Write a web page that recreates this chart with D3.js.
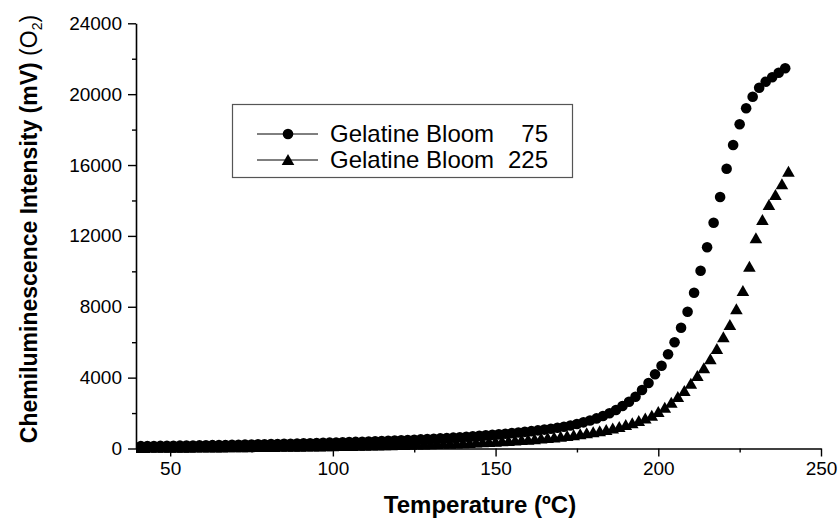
<!DOCTYPE html>
<html>
<head>
<meta charset="utf-8">
<script src="https://cdn.jsdelivr.net/npm/d3@7"></script>
<style>
    body { margin: 0; background: #fff; }
    svg text { font-family: "Liberation Sans", Arial, sans-serif; fill: #000; }
</style>
</head>
<body>
<div id="chart"></div>
<script>

// Gelatine Bloom 75 (circles)
const temps75 = [41, 43, 45, 47, 49, 51, 53, 55, 57, 59,
    61, 63, 65, 67, 69, 71, 73, 75, 77, 79,
    81, 83, 85, 87, 89, 91, 93, 95, 97, 99,
    101, 103, 105, 107, 109, 111, 113, 115, 117, 119,
    121, 123, 125, 127, 129, 131, 133, 135, 137, 139,
    141, 143, 145, 147, 149, 151, 153, 155, 157, 159,
    161, 163, 165, 167, 169, 171, 173, 175, 177, 179,
    181, 183, 185, 187, 189, 191, 193, 195, 197, 199,
    201, 203, 205, 207, 209, 211, 213, 215, 217, 219,
    221, 223, 225, 227, 229, 231, 233, 235, 237, 239];
const bloom75 = [134, 138, 142, 147, 151, 156, 161, 166, 171, 176,
    182, 188, 194, 200, 206, 212, 219, 226, 233, 240,
    248, 256, 264, 272, 281, 290, 299, 309, 319, 329,
    340, 350, 361, 372, 383, 395, 408, 422, 436, 450,
    465, 481, 497, 514, 532, 550, 570, 591, 613, 636,
    660, 686, 713, 741, 770, 800, 833, 868, 904, 941,
    980, 1023, 1068, 1115, 1168, 1230, 1300, 1382, 1475, 1580,
    1700, 1834, 1987, 2173, 2399, 2642, 2924, 3302, 3700, 4188,
    4673, 5317, 5994, 6818, 7722, 8794, 10036, 11356, 12745, 14195,
    15793, 17131, 18299, 19202, 19856, 20364, 20703, 20951, 21211, 21460];

// Gelatine Bloom 225 (triangles)
const temps225 = [40, 42, 44, 46, 48, 50, 52, 54, 56, 58,
    60, 62, 64, 66, 68, 70, 72, 74, 76, 78,
    80, 82, 84, 86, 88, 90, 92, 94, 96, 98,
    100, 102, 104, 106, 108, 110, 112, 114, 116, 118,
    120, 122, 124, 126, 128, 130, 132, 134, 136, 138,
    140, 142, 144, 146, 148, 150, 152, 154, 156, 158,
    160, 162, 164, 166, 168, 170, 172, 174, 176, 178,
    180, 182, 184, 186, 188, 190, 192, 194, 196, 198,
    200, 202, 204, 206, 208, 210, 212, 214, 216, 218,
    220, 222, 224, 226, 228, 230, 232, 234, 236, 238, 240];
const bloom225 = [33, 35, 36, 38, 40, 42, 44, 46, 49, 51,
    54, 57, 59, 62, 65, 68, 71, 74, 78, 81,
    85, 89, 92, 96, 101, 105, 110, 114, 119, 125,
    130, 136, 141, 147, 153, 160, 166, 173, 180, 187,
    195, 203, 212, 221, 230, 240, 251, 262, 274, 287,
    300, 315, 332, 349, 367, 385, 406, 427, 450, 474,
    500, 528, 559, 590, 624, 660, 705, 750, 800, 855,
    915, 980, 1050, 1130, 1220, 1320, 1430, 1550, 1690, 1850,
    2060, 2300, 2580, 2900, 3250, 3650, 4092, 4527, 5035, 5616,
    6276, 6971, 7857, 8890, 10261, 11864, 12897, 13744, 14308, 14912, 15623];

const xTicks = [50, 100, 150, 200, 250];
const xMinor = [75, 125, 175, 225];
const yTicks = [0, 4000, 8000, 12000, 16000, 20000, 24000];
const yMinor = [2000, 6000, 10000, 14000, 18000, 22000];

const seriesNames = ["Gelatine Bloom", "Gelatine Bloom"];
const seriesNums = ["75", "225"];

const W = 838, H = 521;

const svg = d3.select("#chart").append("svg")
    .attr("width", W)
    .attr("height", H);

const x = d3.scaleLinear().domain([39.5, 250]).range([136, 821]);
const y = d3.scaleLinear().domain([0, 24000]).range([448.5, 23.3]);

const triPath = "M0,-6L6.3,5L-6.3,5Z";

// clip so markers stay in the plot box
svg.append("clipPath").attr("id", "plotclip")
    .append("rect")
    .attr("x", x.range()[0]).attr("y", 0)
    .attr("width", x.range()[1] - x.range()[0] + 10)
    .attr("height", y.range()[0] + 12);

const plot = svg.append("g").attr("clip-path", "url(#plotclip)");

plot.selectAll(".tri")
    .data(temps225.map((t, i) => [t, bloom225[i]]))
    .enter().append("path")
    .attr("class", "tri")
    .attr("d", triPath)
    .attr("transform", d => "translate(" + x(d[0]) + "," + y(d[1]) + ")")
    .attr("fill", "#000");

plot.selectAll(".dot")
    .data(temps75.map((t, i) => [t, bloom75[i]]))
    .enter().append("circle")
    .attr("class", "dot")
    .attr("cx", d => x(d[0]))
    .attr("cy", d => y(d[1]))
    .attr("r", 5.3)
    .attr("fill", "#000");

// axes
svg.append("g")
    .attr("transform", "translate(0," + y.range()[0] + ")")
    .call(d3.axisBottom(x).tickValues(xTicks).tickSize(8).tickPadding(5).tickSizeOuter(0));
svg.append("g")
    .attr("transform", "translate(0," + y.range()[0] + ")")
    .call(d3.axisBottom(x).tickValues(xMinor).tickSize(4).tickFormat("").tickSizeOuter(0))
    .select(".domain").remove();

svg.append("g")
    .attr("transform", "translate(" + x.range()[0] + ",0)")
    .call(d3.axisLeft(y).tickValues(yTicks).tickFormat(d3.format("d")).tickSize(8).tickPadding(6).tickSizeOuter(0));
svg.append("g")
    .attr("transform", "translate(" + x.range()[0] + ",0)")
    .call(d3.axisLeft(y).tickValues(yMinor).tickSize(4).tickFormat("").tickSizeOuter(0))
    .select(".domain").remove();

svg.selectAll(".domain").attr("stroke", "#000").attr("stroke-width", 1.6);
svg.selectAll(".tick line").attr("stroke", "#000").attr("stroke-width", 1.4);
svg.selectAll(".tick text")
    .attr("font-family", "'Liberation Sans', Arial, sans-serif")
    .attr("font-size", "19px")
    .attr("fill", "#000");

// axis titles
svg.append("text")
    .attr("x", 480)
    .attr("y", 513)
    .attr("text-anchor", "middle")
    .attr("font-size", "24px")
    .attr("font-weight", "bold")
    .text("Temperature (ºC)");

const yTitle = svg.append("text")
    .attr("transform", "translate(37,229) rotate(-90)")
    .attr("text-anchor", "middle")
    .attr("font-size", "23px")
    .attr("font-weight", "bold");
yTitle.append("tspan").text("Chemiluminescence Intensity (mV) ");
yTitle.append("tspan").attr("font-weight", "normal").text("(O");
yTitle.append("tspan").attr("font-weight", "normal").attr("font-size", "14px").attr("dy", 5).text("2");
yTitle.append("tspan").attr("font-weight", "normal").attr("dy", -5).text(")");

// legend
const legend = svg.append("g");
legend.append("rect")
    .attr("x", 232.5).attr("y", 104.5)
    .attr("width", 340).attr("height", 73)
    .attr("fill", "#fff")
    .attr("stroke", "#555")
    .attr("stroke-width", 1.2);

const rows = [134, 160];
rows.forEach((ry, i) => {
    legend.append("line")
        .attr("x1", 257).attr("x2", 318)
        .attr("y1", ry).attr("y2", ry)
        .attr("stroke", "#000").attr("stroke-width", 1);
    if (i === 0) {
        legend.append("circle").attr("cx", 288).attr("cy", ry).attr("r", 5.3).attr("fill", "#000");
    } else {
        legend.append("path").attr("d", triPath).attr("transform", "translate(288," + ry + ")").attr("fill", "#000");
    }
    legend.append("text")
        .attr("x", 330).attr("y", ry + 8)
        .attr("font-size", "24px")
        .text(seriesNames[i]);
    legend.append("text")
        .attr("x", 548).attr("y", ry + 8)
        .attr("font-size", "24px")
        .attr("text-anchor", "end")
        .text(seriesNums[i]);
});

</script>
</body>
</html>
